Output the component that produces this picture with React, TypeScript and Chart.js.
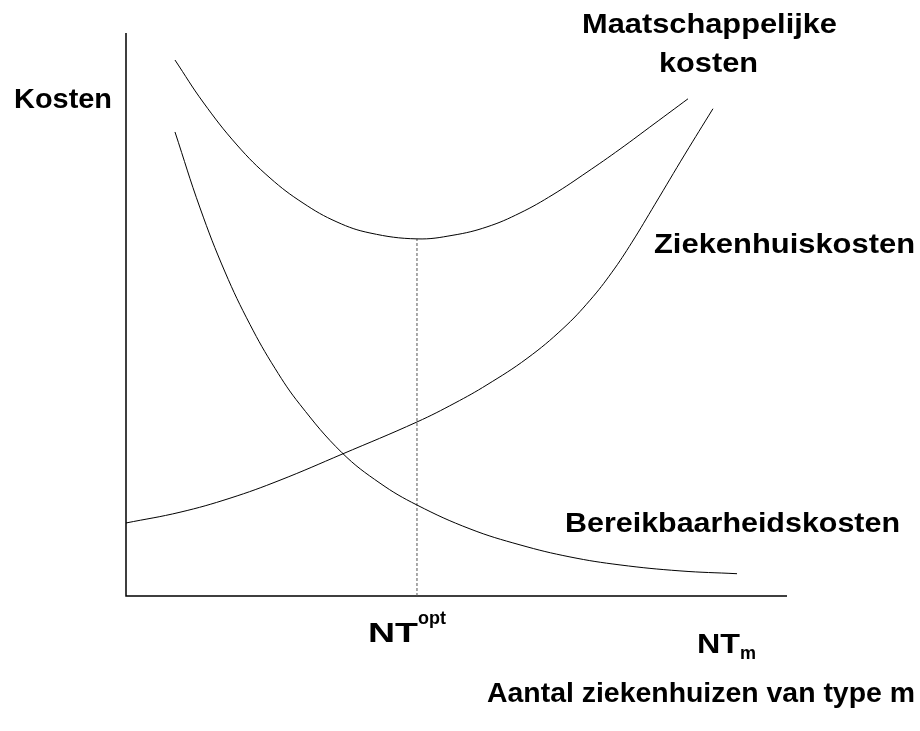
import React, { useEffect, useRef } from "react";
import { Chart, registerables } from "chart.js";

Chart.register(...registerables);

// Values in relative units (x: number of hospitals, y: costs), 0..100
const maatschappelijkeX = [7.41, 11.65, 16.79, 21.79, 26.78, 31.92, 36.91, 44.02, 49.47, 54.61, 59.61, 64.6, 69.74, 74.74, 79.88, 85.02];
const maatschappelijkeY = [95.2, 87.74, 80.11, 74.25, 69.8, 66.43, 64.48, 63.43, 64.08, 65.56, 68.03, 71.3, 75.28, 79.38, 83.84, 88.31];

const bereikbaarheidX = [7.41, 11.2, 14.98, 18.76, 22.54, 26.32, 32.68, 38.43, 44.02, 52.04, 59.61, 67.17, 74.74, 83.81, 92.44];
const bereikbaarheidY = [82.42, 68.92, 57.55, 48.22, 40.44, 34.01, 25.44, 20.04, 16.16, 11.92, 9.08, 6.94, 5.52, 4.46, 3.96];

const ziekenhuisX = [0, 8.17, 15.73, 23.3, 32.68, 44.02, 49.77, 54.61, 60.67, 66.11, 70.2, 73.52, 76.55, 80.03, 84.57, 88.8];
const ziekenhuisY = [12.97, 14.88, 17.37, 20.57, 25.19, 30.91, 34.28, 37.51, 42.2, 47.51, 52.54, 57.51, 62.84, 69.59, 78.49, 86.55];

const optimumX = 44.02;
const optimumY = 63.43;

const yLabel = "Kosten";
const xLabel = "Aantal ziekenhuizen van type m";
const seriesLabels = ["Maatschappelijke", "kosten", "Ziekenhuiskosten", "Bereikbaarheidskosten"];

const zip = (xs: number[], ys: number[]) => xs.map((x, i) => ({ x, y: ys[i] }));

const FONT = '"Liberation Sans", Arial, sans-serif';

function drawFitted(ctx: CanvasRenderingContext2D, text: string, left: number, right: number, baseline: number, size: number) {
  ctx.save();
  ctx.font = `bold ${size}px ${FONT}`;
  const w = ctx.measureText(text).width;
  const sx = (right - left) / w;
  ctx.translate(left, baseline);
  ctx.scale(sx, 1);
  ctx.textAlign = "left";
  ctx.textBaseline = "alphabetic";
  ctx.fillStyle = "#000";
  ctx.fillText(text, 0, 0);
  ctx.restore();
}

const decorPlugin = {
  id: "decor",
  beforeDatasetsDraw(chart: any) {
    const { ctx, chartArea } = chart;
    ctx.save();
    ctx.strokeStyle = "#000";
    ctx.lineWidth = 1.5;
    ctx.beginPath();
    ctx.moveTo(chartArea.left, chartArea.top);
    ctx.lineTo(chartArea.left, chartArea.bottom);
    ctx.lineTo(chartArea.right, chartArea.bottom);
    ctx.stroke();
    ctx.restore();
  },
  afterDraw(chart: any) {
    const ctx: CanvasRenderingContext2D = chart.ctx;
    drawFitted(ctx, yLabel, 14, 112, 108, 28);
    drawFitted(ctx, seriesLabels[0], 582, 837, 33, 28);
    drawFitted(ctx, seriesLabels[1], 659, 758, 72, 28);
    drawFitted(ctx, seriesLabels[2], 654, 915, 253, 28);
    drawFitted(ctx, seriesLabels[3], 565, 900, 532, 28);
    // NT^opt
    drawFitted(ctx, "NT", 368, 418, 642, 28);
    ctx.save();
    ctx.font = `bold 18px ${FONT}`;
    ctx.fillStyle = "#000";
    ctx.fillText("opt", 418, 624);
    ctx.restore();
    // NT_m
    drawFitted(ctx, "NT", 697, 740, 653, 28);
    ctx.save();
    ctx.font = `bold 18px ${FONT}`;
    ctx.fillStyle = "#000";
    ctx.fillText("m", 740, 659);
    ctx.restore();
    drawFitted(ctx, xLabel, 487, 915, 702, 28);
  },
};

export default function App() {
  const ref = useRef<HTMLCanvasElement | null>(null);
  useEffect(() => {
    if (!ref.current) return;
    const lineStyle = {
      showLine: true,
      borderColor: "#000",
      borderWidth: 1,
      pointRadius: 0,
      fill: false,
      tension: 0.4,
      cubicInterpolationMode: "default" as const,
    };
    const chart = new Chart(ref.current, {
      type: "scatter",
      data: {
        datasets: [
          { label: "Maatschappelijke kosten", data: zip(maatschappelijkeX, maatschappelijkeY), ...lineStyle },
          { label: "Bereikbaarheidskosten", data: zip(bereikbaarheidX, bereikbaarheidY), ...lineStyle },
          { label: "Ziekenhuiskosten", data: zip(ziekenhuisX, ziekenhuisY), ...lineStyle },
          {
            label: "NTopt",
            data: [
              { x: optimumX, y: 0 },
              { x: optimumX, y: optimumY },
            ],
            showLine: true,
            borderColor: "#555",
            borderWidth: 1,
            borderDash: [3, 2],
            pointRadius: 0,
            tension: 0,
          },
        ],
      },
      options: {
        responsive: false,
        animation: false,
        devicePixelRatio: 1,
        layout: { padding: { left: 126, right: 133, top: 33, bottom: 135 } },
        plugins: { legend: { display: false }, tooltip: { enabled: false } },
        scales: {
          x: { type: "linear", min: 0, max: 100, display: false },
          y: { type: "linear", min: 0, max: 100, display: false },
        },
      } as any,
      plugins: [decorPlugin],
    });
    return () => chart.destroy();
  }, []);
  return (
    <div style={{ position: "fixed", left: 0, top: 0, width: 920, height: 731, background: "#fff" }}>
      <canvas ref={ref} width={920} height={731} style={{ width: 920, height: 731 }} />
    </div>
  );
}
